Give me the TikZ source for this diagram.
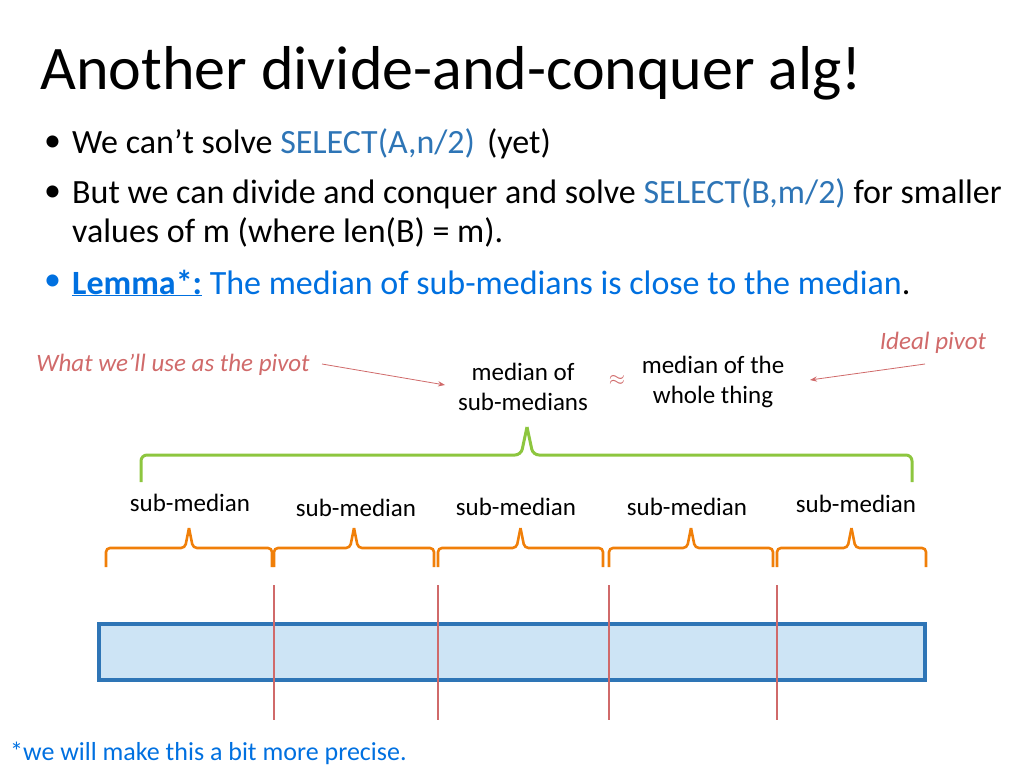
\documentclass[tikz,border=0pt]{standalone}
\usepackage{fontspec}
\setmainfont{Carlito}
\usetikzlibrary{arrows.meta}
\begin{document}
\begin{tikzpicture}[x=1pt,y=-1pt,
  lbl/.style={font=\fontsize{25}{30}\selectfont, align=center, inner sep=0},
  body/.style={font=\fontsize{34}{40}\selectfont, anchor=west, inner sep=0},
  brO/.style={draw=orng, line width=2.6pt, rounded corners=4pt},
  pivot/.style={font=\fontsize{25}{30}\selectfont\itshape, text=pivred, inner sep=0},
  parr/.style={draw=pivred, -{Stealth[length=7pt]}, line width=0.8pt}]
\definecolor{selblue}{HTML}{2E75B6}
\definecolor{orng}{HTML}{F07F09}
\definecolor{grn}{HTML}{8DC63F}
\definecolor{pivred}{HTML}{D06A6A}
\definecolor{lemblue}{HTML}{0070E0}
\definecolor{fillblue}{HTML}{CDE4F5}
\useasboundingbox (0,0) rectangle (1024,768);
\node[anchor=west, inner sep=0, font=\fontsize{62}{70}\selectfont] (title) at (40,73) {Another divide-and-conquer alg!};
\node[body] (d1) at (44,144) {\textbullet};
\node[body] (b1) at (72,144) {We can’t solve \textcolor{selblue}{SELECT(A,n/2)}\hspace{12pt}(yet)};
\node[body] (d2) at (44,194) {\textbullet};
\node[body] (b2) at (72,194) {But we can divide and conquer and solve \textcolor{selblue}{SELECT(B,m/2)} for smaller};
\node[body] (b2b) at (72,232) {values of m (where len(B) = m).};
\node[body] (d3) at (44,283) {\textcolor{lemblue}{\textbullet}};
\node[body] (b3) at (72,283) {\textcolor{lemblue}{\textbf{\underline{Lemma*:}} The median of sub-medians is close to the median}.};
% rectangle
\node[draw=selblue, fill=fillblue, line width=4.5pt, minimum width=826pt, minimum height=56pt, inner sep=0] (arr) at (512,652) {};
\foreach \x [count=\i] in {274,438,609,777}{
  \coordinate (t\i) at (\x,585); \coordinate (u\i) at (\x,720);
  \draw[pivred, line width=2.6pt] (t\i) -- (u\i);}
% orange brackets
\foreach \a/\b [count=\i] in {106/272,274/434,438/603,609/773,777/926}{
  \pgfmathsetmacro{\m}{(\a+\b)/2}
  \draw[brO] (\a,567) -- (\a,548) -- (\m-4,548) -- (\m,528);
  \draw[brO] (\b,567) -- (\b,548) -- (\m+4,548) -- (\m,528);}
\node[lbl] (s1) at (190,503) {sub-median};
\node[lbl] (s2) at (356,508) {sub-median};
\node[lbl] (s3) at (516,507) {sub-median};
\node[lbl] (s4) at (687,507) {sub-median};
\node[lbl] (s5) at (856,504) {sub-median};
% green brace
\draw[grn, line width=3pt, rounded corners=6pt] (141,482) -- (141,455) -- (521,455) -- (527,427);
\draw[grn, line width=3pt, rounded corners=6pt] (912,482) -- (912,455) -- (533,455) -- (527,427);
\node[lbl] (mm) at (523,387) {median of\\sub-medians};
\node[inner sep=0, text=pivred, font=\fontsize{20}{24}\selectfont] (ap) at (617,380) {$\approx$};
\node[lbl] (mw) at (713,382) {median of the\\whole thing};
\node[pivot] (wp) at (173,365) {What we’ll use as the pivot};
\node[pivot] (ip) at (933,343) {Ideal pivot};
\coordinate (w0) at (322,364); \coordinate (w1) at (445,385);
\coordinate (i0) at (925,364); \coordinate (i1) at (810,380);
\draw[parr] (w0) -- (w1);
\draw[parr] (i0) -- (i1);
\node[anchor=west, inner sep=0, text=lemblue, font=\fontsize{26}{30}\selectfont] (note) at (10,753) {*we will make this a bit more precise.};
\end{tikzpicture}
\end{document}
